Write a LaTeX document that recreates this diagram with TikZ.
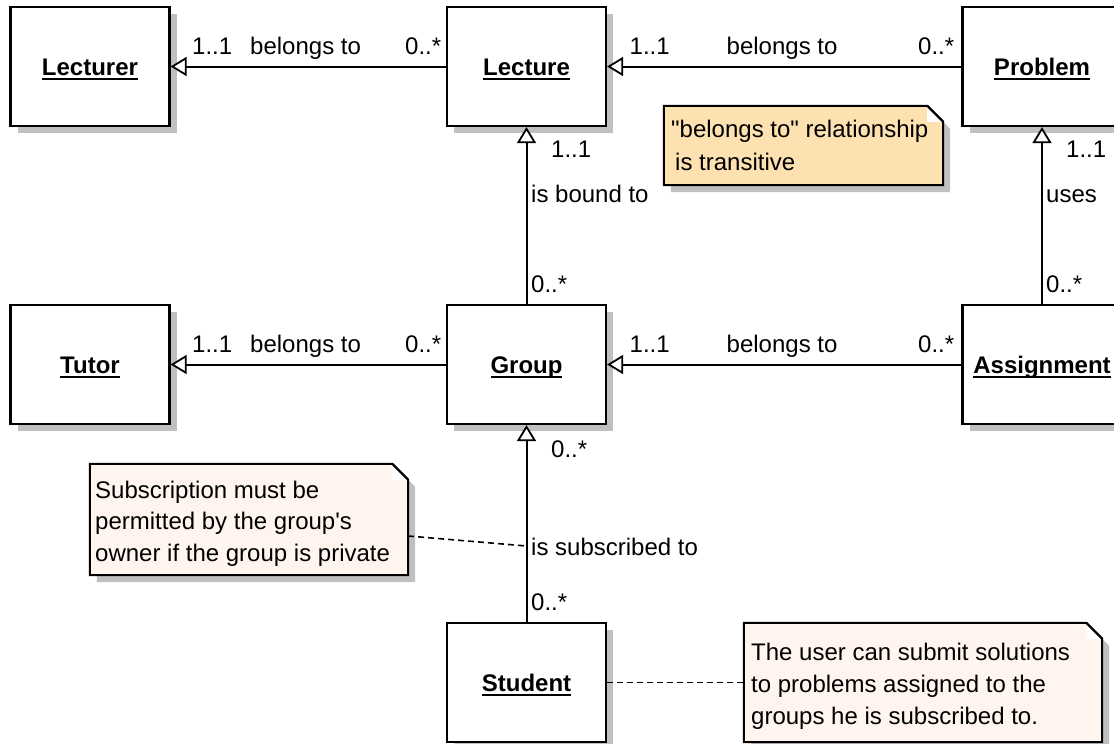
\documentclass[tikz,border=0pt]{standalone}
\usepackage{fontspec}
\setmainfont{Liberation Sans}[Ligatures=TeXOff]
\usetikzlibrary{arrows.meta,shadows,calc}

\definecolor{shadowgray}{RGB}{192,192,192}
\definecolor{noteorange}{RGB}{253,225,177}
\definecolor{notepink}{RGB}{255,244,238}

% bold, underlined class name
\newcommand\classname[1]{\setbox0=\hbox{\bfseries #1}\rlap{\rule[-5pt]{\wd0}{2pt}}\box0}

% note outline with a folded top-right corner, drawn round a placeholder node
\newcommand\dogear[2]{%
  \draw[line width=2pt, fill=#2, boxshadow]
    (#1.north west) -- ($(#1.north east)+(-16,0)$) -- ($(#1.north east)+(0,16)$)
    -- (#1.south east) -- (#1.south west) -- cycle;
  \fill[white] ($(#1.north east)+(-16,0)$) -- ($(#1.north east)+(-16,16)$)
    -- ($(#1.north east)+(0,16)$) -- cycle;
  \draw[line width=2pt, line cap=round] ($(#1.north east)+(-16,0)$) -- ($(#1.north east)+(0,16)$);
}

\begin{document}
\begin{tikzpicture}[x=1pt, y=-1pt,
  every node/.style={font=\fontsize{24}{28}\selectfont},
  boxshadow/.style={drop shadow={shadow xshift=7pt, shadow yshift=-7pt, fill=shadowgray, opacity=1}},
  classbox/.style={draw, line width=2.2pt, fill=white, minimum width=159pt, minimum height=119pt,
    inner sep=0pt, text height=22pt, text depth=5pt, boxshadow},
  notearea/.style={inner sep=0pt, minimum width=#1},
  lbl/.style={anchor=base west, inner sep=0pt},
  assoc/.style={line width=2pt, -{Triangle[fill=white, length=16pt, width=19pt, line width=1.8pt]}},
  noteline/.style={line width=1.6pt, dash pattern=on 6pt off 4pt},
]
\clip (0,0) rectangle (1114,744);
\fill[white] (0,0) rectangle (1114,744);

% classes
\node[classbox] (lecturer)   at (90,66.5)    {\classname{Lecturer}};
\node[classbox] (lecture)    at (526.5,66.5) {\classname{Lecture}};
\node[classbox] (problem)    at (1042,66.5)  {\classname{Problem}};
\node[classbox] (tutor)      at (90,364.5)   {\classname{Tutor}};
\node[classbox] (group)      at (526.5,364.5){\classname{Group}};
\node[classbox] (assignment) at (1042,364.5) {\classname{Assignment}};
\node[classbox] (student)    at (526.5,682.5){\classname{Student}};

% notes
\node[notearea=279pt, minimum height=79pt]  (n1) at (803.5,145.5) {};
\node[notearea=318pt, minimum height=111pt] (n2) at (249,519.5) {};
\node[notearea=358pt, minimum height=119pt] (n3) at (923,682.5) {};
\dogear{n1}{noteorange}
\dogear{n2}{notepink}
\dogear{n3}{notepink}

\node[lbl] (n1a) at (671,137) {"belongs to" relationship};
\node[lbl] (n1b) at (675,170) {is transitive};

\node[lbl] (n2a) at (95,498)   {Subscription must be};
\node[lbl] (n2b) at (95,529.5) {permitted by the group's};
\node[lbl] (n2c) at (95,561)   {owner if the group is private};

\node[lbl] (n3a) at (751,660) {The user can submit solutions};
\node[lbl] (n3b) at (751,692) {to problems assigned to the};
\node[lbl] (n3c) at (751,724) {groups he is subscribed to.};

% associations
\draw[assoc] (lecture.west)    -- (lecturer.east);
\draw[assoc] (problem.west)    -- (lecture.east);
\draw[assoc] (group.north)     -- (lecture.south);
\draw[assoc] (assignment.north)-- (problem.south);
\draw[assoc] (group.west)      -- (tutor.east);
\draw[assoc] (assignment.west) -- (group.east);
\draw[assoc] (student.north)   -- (group.south);

% note anchors
\coordinate (subref) at (526.5,546);
\draw[noteline] ([yshift=-16.5pt]n2.east) -- (subref);
\draw[noteline] (student.east) -- (n3.west);

% multiplicities and roles
\node[lbl] (m1) at (192,54) {1..1};
\node[lbl] (r1) at (250,54) {belongs to};
\node[lbl] (m2) at (405,54) {0..*};

\node[lbl] (m3) at (629.5,54) {1..1};
\node[lbl] (r2) at (726.5,54) {belongs to};
\node[lbl] (m4) at (918,54) {0..*};

\node[lbl] (m5) at (192,352) {1..1};
\node[lbl] (r3) at (250,352) {belongs to};
\node[lbl] (m6) at (405,352) {0..*};

\node[lbl] (m7) at (629.5,352) {1..1};
\node[lbl] (r4) at (726.5,352) {belongs to};
\node[lbl] (m8) at (918,352) {0..*};

\node[lbl] (m9)  at (551,157) {1..1};
\node[lbl] (r5)  at (531,202) {is bound to};
\node[lbl] (m10) at (531,292) {0..*};

\node[lbl] (m11) at (1066,157) {1..1};
\node[lbl] (r6)  at (1046,202) {uses};
\node[lbl] (m12) at (1046,292) {0..*};

\node[lbl] (m13) at (551,457) {0..*};
\node[lbl] (r7)  at (531,555) {is subscribed to};
\node[lbl] (m14) at (531,610) {0..*};
\end{tikzpicture}
\end{document}
